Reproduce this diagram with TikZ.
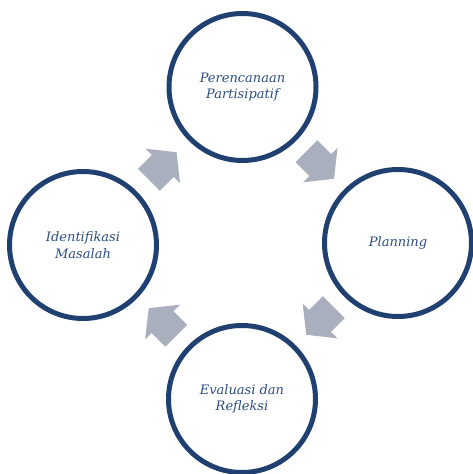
\documentclass[tikz,border=0pt]{standalone}
\usepackage{fontspec}
\setmainfont{DejaVu Serif}
\usetikzlibrary{calc}
\definecolor{ringblue}{RGB}{31,64,112}
\definecolor{arrowgray}{RGB}{170,175,190}
\definecolor{textblue}{RGB}{44,77,128}
\newcommand{\cyclearrowshape}[3]{%
  \begin{scope}[shift={($(#1)!0.5!(#2)$)},rotate=#3]
    \fill[cyclearrow] (-19.5,-15.5) -- (0,-15.5) -- (0,-24.5) -- (19.5,0) -- (0,24.5) -- (0,15.5) -- (-19.5,15.5) -- cycle;
  \end{scope}}
\begin{document}
\begin{tikzpicture}[x=1pt,y=1pt,
  ring/.style={circle,draw=ringblue,line width=5pt,minimum size=147pt,inner sep=0pt,
    font=\itshape\fontsize{13}{16.7}\selectfont,text=textblue,align=center},
  cyclearrow/.style={fill=arrowgray}]
\useasboundingbox (0,0) rectangle (472,474);
\node[ring] (plan) at (242.5,387) {Perencanaan\\Partisipatif};
\node[ring] (ident) at (83,229) {Identifikasi\\Masalah};
\node[ring] (planning) at (398,231) {Planning};
\node[ring] (eval) at (242,75) {Evaluasi dan\\Refleksi};
\cyclearrowshape{ident}{plan}{45}
\cyclearrowshape{plan}{planning}{-45}
\cyclearrowshape{planning}{eval}{-135}
\cyclearrowshape{eval}{ident}{135}
\end{tikzpicture}
\end{document}
